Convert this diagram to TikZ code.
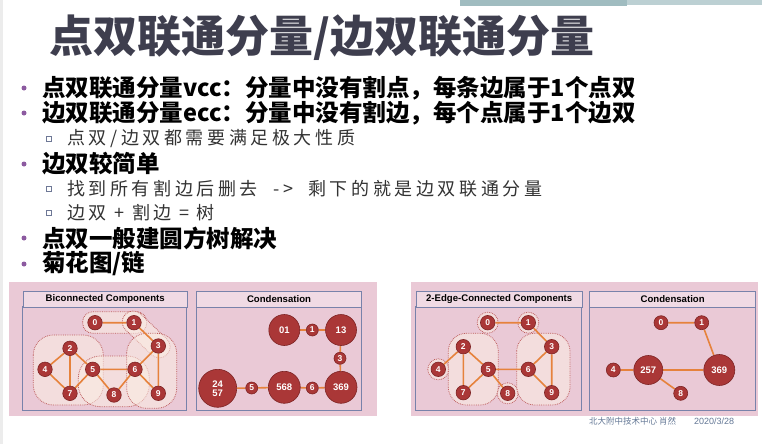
\documentclass[tikz,border=0pt]{standalone}
\usepackage{fontspec}
\usepackage{xcolor}
\usepackage{tikz}
\usetikzlibrary{positioning}

\newfontfamily\cjkfont{Noto Sans CJK SC}
\newfontfamily\subfont{Noto Sans CJK SC}[LetterSpace=20]
\newfontfamily\figfont{Liberation Sans}

\definecolor{titlegray}{RGB}{62,62,78}
\definecolor{bulletpurple}{RGB}{140,90,160}
\definecolor{subgray}{RGB}{110,120,150}
\definecolor{bgpink}{RGB}{234,201,214}
\definecolor{hdrpink}{RGB}{240,218,228}
\definecolor{boxblue}{RGB}{120,130,170}
\definecolor{vtxred}{RGB}{170,55,55}
\definecolor{vtxdark}{RGB}{125,35,35}
\definecolor{edgeorange}{RGB}{230,130,60}
\definecolor{blobline}{RGB}{190,95,95}
\definecolor{blobfill}{RGB}{251,238,228}
\definecolor{barteal}{RGB}{160,188,192}
\definecolor{footblue}{RGB}{100,120,150}

\pgfdeclarelayer{bglayer}
\pgfdeclarelayer{edgelayer}
\pgfsetlayers{bglayer,edgelayer,main}

\begin{document}
\begin{tikzpicture}[
    x=1pt, y=-1pt,
    maintext/.style={anchor=west, inner sep=0pt, font=\cjkfont\bfseries\fontsize{23.5}{24}\selectfont},
    subtext/.style={anchor=west, inner sep=0pt, text=black!80, font=\subfont\fontsize{18}{20}\selectfont},
    dot/.style={circle, fill=bulletpurple, inner sep=0pt, minimum size=5pt},
    subdot/.style={rectangle, draw=subgray, fill=white, line width=0.5pt, inner sep=0pt, minimum size=5pt},
    hdr/.style={rectangle, draw=boxblue, fill=hdrpink, line width=1pt, anchor=north west, minimum height=15.5pt, inner sep=0pt, font=\figfont\bfseries\fontsize{9.6}{10}\selectfont},
    frame/.style={draw=boxblue, line width=1pt},
    vtx/.style={circle, draw=vtxdark, fill=vtxred, line width=0.6pt, inner sep=0pt, minimum size=14.5pt, text=white, font=\figfont\bfseries\fontsize{8.5}{8.5}\selectfont},
    bigvtx/.style={vtx, minimum size=31pt, font=\figfont\bfseries\fontsize{9.5}{10}\selectfont, align=center},
    edge/.style={draw=edgeorange, line width=1.6pt},
    blob/.style={draw=blobline, densely dotted, line width=0.8pt, fill=blobfill, fill opacity=0.55},
  ]
  \useasboundingbox (0,0) rectangle (773,444);
  \begin{pgfonlayer}{bglayer}
    \fill[white] (0,0) rectangle (773,444);
    \fill[gray!15] (0,0) rectangle (3,444);
    % Top bar
    \fill[barteal] (460,0) rectangle (627,6);
    \fill[barteal!70] (627,0) rectangle (762,5);
    % Pink backgrounds
    \fill[bgpink] (9,282) rectangle (377,415.7);
    \fill[bgpink] (411,282) rectangle (758.3,415.7);
    % Frames
    \draw[frame] (22.7,306.5) rectangle (186.7,410.7);
    \draw[frame] (196,306.5) rectangle (361,410.7);
    \draw[frame] (415.7,306.5) rectangle (581.7,410.7);
    \draw[frame] (589.3,306.5) rectangle (755,410.7);
    % Biconnected blobs
    \draw[blob, rounded corners=10pt] (82.7,311.7) rectangle (146.7,333.3);
    \node[blob, rectangle, rounded corners=11pt, rotate=-43.8, minimum width=58pt, minimum height=22pt] (k13) at (146.2,334.4) {};
    \draw[blob, rounded corners=20pt] (33.3,335) rectangle (103.3,405);
    \draw[blob, rounded corners=22pt] (78.3,356) rectangle (149.3,406.7);
    \draw[blob, rounded corners=20pt] (126.7,333.3) rectangle (176.7,408.3);
    % 2-edge-connected blobs
    \draw[blob] (487.7,322.7) circle (10.5);
    \draw[blob] (528.3,322.7) circle (10.5);
    \draw[blob] (438.3,369.3) circle (10.5);
    \draw[blob] (507.7,393.3) circle (10.5);
    \draw[blob, rounded corners=18pt] (448.3,333.3) rectangle (498.3,405);
    \draw[blob, rounded corners=18pt] (516.7,333.3) rectangle (570,405);
  \end{pgfonlayer}

  % Title
  \node[anchor=west, inner sep=0pt, text=titlegray, font=\cjkfont\bfseries\fontsize{44}{45}\selectfont] (title) at (49,38) {点双联通分量/边双联通分量};

  % Bullets
  \node[dot] (d1) at (24,88) {};
  \node[maintext] (l1) at (42,88) {点双联通分量vcc：分量中没有割点，每条边属于1个点双};
  \node[dot] (d2) at (24,113) {};
  \node[maintext] (l2) at (42,113) {边双联通分量ecc：分量中没有割边，每个点属于1个边双};
  \node[subdot] (s1) at (48.5,139) {};
  \node[subtext] (t1) at (67,139) {点双/边双都需要满足极大性质};
  \node[dot] (d3) at (24,164) {};
  \node[maintext] (l3) at (42,164) {边双较简单};
  \node[subdot] (s2) at (48.5,189) {};
  \node[subtext] (t2) at (67,189) {找到所有割边后删去\ \ ->\ \ 剩下的就是边双联通分量};
  \node[subdot] (s3) at (48.5,213) {};
  \node[subtext] (t3) at (67,213) {边双 + 割边 = 树};
  \node[dot] (d4) at (24,238) {};
  \node[maintext] (l4) at (42,238) {点双一般建圆方树解决};
  \node[dot] (d5) at (24,264) {};
  \node[maintext] (l5) at (42,264) {菊花图/链};

  % Headers
  \node[hdr, minimum width=164pt] (h1) at (22.7,291) {Biconnected Components};
  \node[hdr, minimum width=165pt] (h2) at (196,291) {Condensation};
  \node[hdr, minimum width=166pt] (h3) at (415.7,291) {2-Edge-Connected Components};
  \node[hdr, minimum width=165.7pt] (h4) at (589.3,291) {Condensation};

  % Biconnected components
  \node[vtx] (b0) at (95,322.7) {0};
  \node[vtx] (b1) at (134,322.7) {1};
  \node[vtx] (b2) at (70,348.3) {2};
  \node[vtx] (b3) at (158.3,346) {3};
  \node[vtx] (b4) at (45,369.3) {4};
  \node[vtx] (b5) at (92.7,369.3) {5};
  \node[vtx] (b6) at (135,369.3) {6};
  \node[vtx] (b7) at (70,393.3) {7};
  \node[vtx] (b8) at (114,395) {8};
  \node[vtx] (b9) at (158.3,393.3) {9};

  % Condensation (vcc)
  \node[bigvtx] (c01) at (284.3,330) {01};
  \node[vtx, minimum size=12pt] (c1) at (312.3,330) {1};
  \node[bigvtx] (c13) at (341,330) {13};
  \node[vtx, minimum size=12pt] (c3) at (340,358.3) {3};
  \node[bigvtx, minimum size=32pt] (c369) at (341,387.3) {369};
  \node[vtx, minimum size=12pt] (c6) at (312.3,388) {6};
  \node[bigvtx, minimum size=32pt] (c568) at (284.3,387.3) {568};
  \node[vtx, minimum size=12pt] (c5) at (251.7,388) {5};
  \node[bigvtx, minimum size=38pt] (c2457) at (217.7,388.3) {24\\[-1pt]57};

  % 2-edge-connected components
  \node[vtx] (e0) at (487.7,322.7) {0};
  \node[vtx] (e1) at (528.3,322.7) {1};
  \node[vtx] (e2) at (463.3,346.7) {2};
  \node[vtx] (e3) at (551.7,346.7) {3};
  \node[vtx] (e4) at (438.3,369.3) {4};
  \node[vtx] (e5) at (488.3,369.3) {5};
  \node[vtx] (e6) at (528.3,369.3) {6};
  \node[vtx] (e7) at (463.3,392.7) {7};
  \node[vtx] (e8) at (507.7,393.3) {8};
  \node[vtx] (e9) at (551.7,392.7) {9};

  % Condensation (ecc)
  \node[vtx, minimum size=14pt] (g0) at (661,322.7) {0};
  \node[vtx, minimum size=14pt] (g1) at (701.7,322.7) {1};
  \node[vtx, minimum size=14pt] (g4) at (613.3,370) {4};
  \node[bigvtx, minimum size=29pt] (g257) at (648.3,370) {257};
  \node[bigvtx, minimum size=31pt] (g369) at (719.3,370) {369};
  \node[vtx, minimum size=14pt] (g8) at (680.7,393.3) {8};

  % Edges
  \begin{pgfonlayer}{edgelayer}
    \draw[edge] (b0) -- (b1) (b1) -- (b3) (b2) -- (b4) (b2) -- (b7) (b2) -- (b5);
    \draw[edge] (b4) -- (b7) (b7) -- (b5) (b5) -- (b6) (b5) -- (b8) (b8) -- (b6);
    \draw[edge] (b6) -- (b3) (b3) -- (b9) (b6) -- (b9);
    \draw[edge] (c01) -- (c1) (c1) -- (c13) (c13) -- (c3) (c3) -- (c369);
    \draw[edge] (c369) -- (c6) (c6) -- (c568) (c568) -- (c5) (c5) -- (c2457);
    \draw[edge] (e0) -- (e1) (e1) -- (e3) (e2) -- (e4) (e2) -- (e7) (e2) -- (e5) (e7) -- (e5);
    \draw[edge] (e5) -- (e6) (e5) -- (e8) (e6) -- (e3) (e6) -- (e9) (e3) -- (e9);
    \draw[edge] (g0) -- (g1) (g1) -- (g369) (g4) -- (g257) (g257) -- (g369) (g257) -- (g8);
  \end{pgfonlayer}

  % Footer
  \node[anchor=west, inner sep=0pt, text=footblue, font=\cjkfont\fontsize{8.5}{9}\selectfont] (foot) at (589,421.5) {北大附中技术中心 肖然};
  \node[anchor=west, inner sep=0pt, text=footblue, font=\figfont\fontsize{9}{9}\selectfont] (date) at (694,421.5) {2020/3/28};

\end{tikzpicture}
\end{document}
